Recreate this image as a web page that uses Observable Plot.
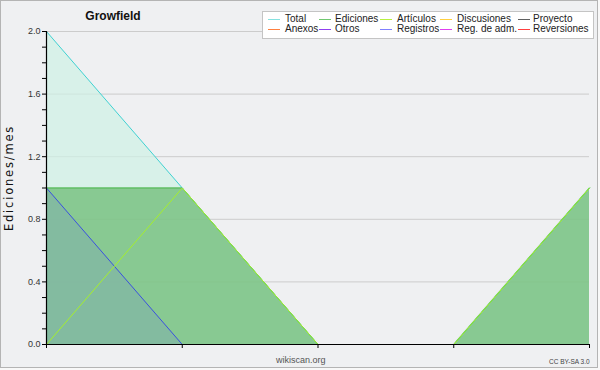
<!DOCTYPE html>
<html><head><meta charset="utf-8">
<script src="https://cdn.jsdelivr.net/npm/d3@7"></script>
<script src="https://cdn.jsdelivr.net/npm/@observablehq/plot@0.6"></script>
<style>
body{margin:0;background:#fff;}
#wrap{position:relative;width:600px;height:370px;background:#f8f8f8;font-family:"Liberation Sans",Arial,sans-serif;overflow:hidden}
#frame{position:absolute;left:0;top:0;width:598px;height:368px;border:1px solid #b4b4b4;box-sizing:border-box;background:#eff0f2}
#plot{position:absolute;left:0;top:0}
.abs{position:absolute;white-space:nowrap}
#title{left:113px;top:16px;transform:translate(-50%,-50%);font-weight:bold;font-size:12px;color:#111}
#ylab{left:9px;top:178px;transform:translate(-50%,-50%) rotate(-90deg);font-size:11.5px;letter-spacing:1.8px;color:#111;font-family:"DejaVu Sans",sans-serif}
#legbox{left:262px;top:11px;width:332px;height:28px;background:#fff;border:1px solid #c4c4c4;box-sizing:border-box}
.lline{position:absolute;height:1px;width:12px}
.ltxt{position:absolute;font-size:10px;line-height:10px;color:#222}
#site{left:276px;top:355px;font-size:9px;color:#555}
#cc{left:549px;top:358px;font-size:6.5px;color:#444}
</style></head><body>
<div id="wrap"><div id="frame"></div><div id="plot"></div>
<div class="abs" id="title">Growfield</div>
<div class="abs" id="ylab">Ediciones/mes</div>
<div class="abs" id="legbox"></div>
<div class="abs" id="site">wikiscan.org</div>
<div class="abs" id="cc">CC BY-SA 3.0</div>
</div>
<script>
const months = [0, 1, 2, 3, 4];
const total = [2, 1, 0, 0, 1];
const ediciones = [1, 1, 0, 0, 1];
const articulos = [0, 1, 0, 0, 1];
const registros = [1, 0, 0, 0, 0];
const yMajor = [0, 0.4, 0.8, 1.2, 1.6, 2.0];
const yMinor = [0.1, 0.2, 0.3, 0.5, 0.6, 0.7, 0.9, 1.0, 1.1, 1.3, 1.4, 1.5, 1.7, 1.8, 1.9];
const legendNames = ["Total", "Ediciones", "Artículos", "Discusiones", "Proyecto", "Anexos", "Otros", "Registros", "Reg. de adm.", "Reversiones"];
const legendColors = ["#86e2e0", "#70c870", "#b8f040", "#ffd040", "#606060", "#ff8040", "#9040f0", "#8080ff", "#e040f0", "#ff4040"];

const data = months.map((m, i) => ({m, total: total[i], ed: ediciones[i], art: articulos[i], reg: registros[i]}));

const chart = Plot.plot({
  width: 600, height: 370,
  marginLeft: 46, marginRight: 11, marginTop: 31, marginBottom: 26,
  style: {background: "transparent", fontFamily: "Liberation Sans, Arial, sans-serif", fontSize: "9px", color: "#333"},
  x: {domain: [0, 4], axis: null},
  y: {domain: [0, 2], axis: null},
  marks: [
    Plot.ruleY(yMajor.filter(d => d > 0), {stroke: "#cccccc", strokeWidth: 1}),
    Plot.areaY(data, {x: "m", y: "total", fill: "#cff1e6", fillOpacity: 0.7}),
    Plot.areaY(data, {x: "m", y: "ed", fill: "#67b86c", fillOpacity: 0.7}),
    Plot.areaY(data, {x: "m", y: "reg", fill: "#82b5a6", fillOpacity: 0.7}),
    Plot.lineY(data, {x: "m", y: "total", stroke: "#3fd2d2", strokeWidth: 1}),
    Plot.lineY(data, {x: "m", y: "ed", stroke: "#4cb84c", strokeWidth: 1}),
    Plot.lineY(data, {x: "m", y: "reg", stroke: "#3a50e0", strokeWidth: 1}),
    Plot.lineY(data, {x: "m", y: "art", stroke: "#a6f02a", strokeWidth: 1}),
    Plot.axisY(yMajor, {tickSize: 4, tickPadding: 2, tickFormat: d3.format(".1f"), stroke: "#000", label: null}),
    Plot.axisY(yMinor, {tickSize: 4, tickFormat: () => "", stroke: "#000", label: null}),
    Plot.axisX(months, {tickSize: 4, tickFormat: () => "", stroke: "#000", label: null}),
    Plot.ruleX([0], {stroke: "#000", strokeWidth: 1.2}),
    Plot.ruleY([0], {stroke: "#000", strokeWidth: 1.2})
  ]
});
document.getElementById("plot").appendChild(chart);

const lineX = [268, 319, 380, 440, 518];
const textX = [285, 335, 397, 457, 533];
const rowY = [19.5, 29.5];
const wrap = document.getElementById("wrap");
legendNames.forEach((name, i) => {
  const col = i % 5, row = Math.floor(i / 5);
  const l = document.createElement("div");
  l.className = "lline";
  l.style.left = lineX[col] + "px";
  l.style.top = (rowY[row] - 0.5) + "px";
  l.style.background = legendColors[i];
  wrap.appendChild(l);
  const t = document.createElement("div");
  t.className = "ltxt";
  t.style.left = textX[col] + "px";
  t.style.top = (rowY[row] - 5.5) + "px";
  t.textContent = name;
  wrap.appendChild(t);
});
</script>
</body></html>
